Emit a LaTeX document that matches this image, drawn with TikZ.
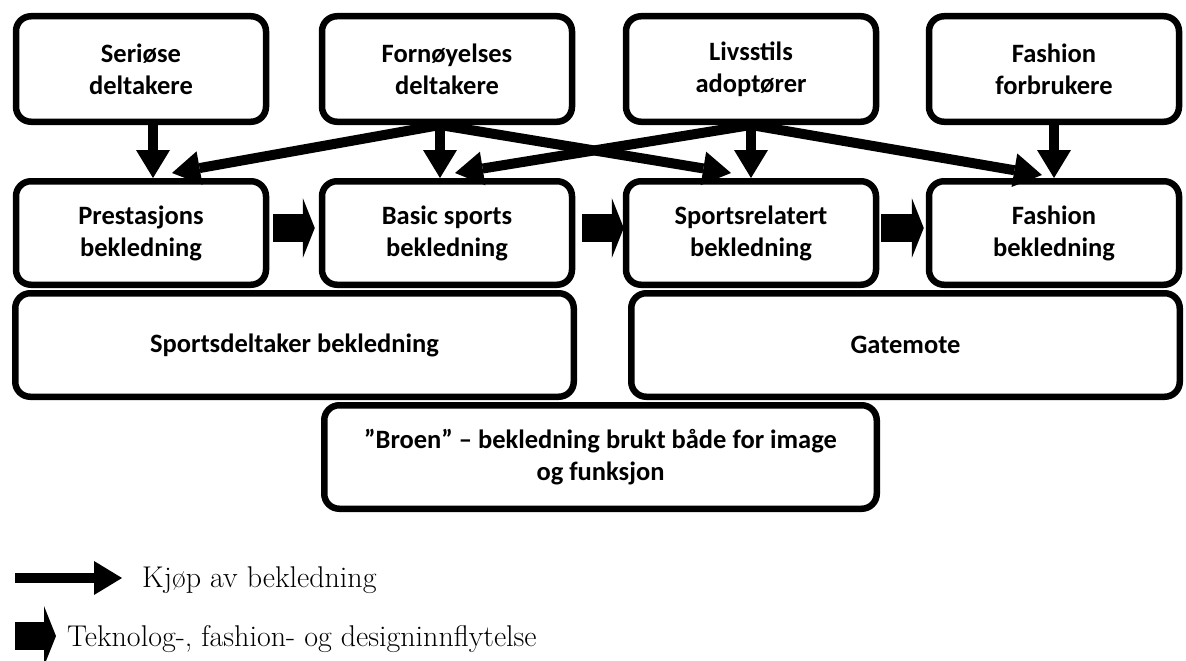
\documentclass[tikz,border=0pt]{standalone}
\usepackage{fontspec}
\newfontfamily\calib{Carlito}
\usetikzlibrary{arrows.meta}
\begin{document}
\begin{tikzpicture}[x=1pt,y=-1pt,
  box/.style={draw, line width=6.5pt, rounded corners=15pt, fill=white, align=center,
    inner sep=0pt, font=\calib\bfseries\fontsize{26.5}{32}\selectfont,
    minimum width=250pt, minimum height=105.5pt},
  buy/.style={line width=10pt, -{Triangle[length=28pt,width=34pt,line width=0pt]}},
  tech/.style={line width=28pt, -{Triangle[length=12pt,width=60pt,line width=0pt]}},
  legendtext/.style={font=\fontsize{30}{35}\selectfont, anchor=west, inner sep=0pt}]
\clip (0,0) rectangle (1186,661);
\useasboundingbox (0,0) rectangle (1186,661);

% top row
\node[box] (b1) at (141,69) {Seriøse\\deltakere};
\node[box] (b2) at (447,69) {Fornøyelses\\deltakere};
\node[box] (b3) at (751,69) {Livsstils\\adoptører};
\node[box] (b4) at (1054,69) {Fashion\\forbrukere};

% second row
\node[box, minimum height=103.5pt] (p1) at (141,233) {Prestasjons\\bekledning};
\node[box, minimum height=103.5pt] (p2) at (447,233) {Basic sports\\bekledning};
\node[box, minimum height=103.5pt] (p3) at (751,233) {Sportsrelatert\\bekledning};
\node[box, minimum height=103.5pt] (p4) at (1054,233) {Fashion\\bekledning};

% third row
\node[box, minimum width=558.5pt, minimum height=103.5pt] (sd) at (294.5,345) {Sportsdeltaker bekledning};
\node[box, minimum width=548.5pt, minimum height=103.5pt] (gm) at (905.5,345) {Gatemote};

% bridge
\node[box, minimum width=552.5pt, minimum height=103.5pt] (br) at (600.5,457) {”Broen” – bekledning brukt både for image\\og funksjon};

% purchase arrows
\draw[buy] ([xshift=12pt]b1.south) -- ([xshift=12pt]p1.north);
\draw[buy] ([xshift=-7pt]b2.south) -- ([shift={(31pt,5pt)}]p1.north);
\draw[buy] ([xshift=-7pt]b2.south) -- ([xshift=-7pt]p2.north);
\draw[buy] ([xshift=-7pt]b2.south) -- ([shift={(-20pt,5pt)}]p3.north);
\draw[buy] (b3.south) -- ([shift={(8pt,5pt)}]p2.north);
\draw[buy] (b3.south) -- (p3.north);
\draw[buy] (b3.south) -- ([shift={(-12pt,3pt)}]p4.north);
\draw[buy] (b4.south) -- (p4.north);

% influence arrows
\draw[tech] ([shift={(4pt,5pt)}]p1.east) -- ([shift={(-4pt,5pt)}]p2.west);
\draw[tech] ([shift={(7pt,5pt)}]p2.east) -- ([shift={(1pt,5pt)}]p3.west);
\draw[tech] ([shift={(2pt,5pt)}]p3.east) -- ([shift={(-2pt,5pt)}]p4.west);

% legend
\coordinate (la) at (15,578);
\coordinate (lb) at (122,578);
\draw[buy] (la) -- (lb);
\node[legendtext] (lt1) at (142,580) {Kjøp av bekledning};
\coordinate (lc) at (15,636);
\coordinate (ld) at (56,636);
\draw[tech] (lc) -- (ld);
\node[legendtext] (lt2) at (67,639) {Teknolog-, fashion- og designinnflytelse};
\end{tikzpicture}
\end{document}
